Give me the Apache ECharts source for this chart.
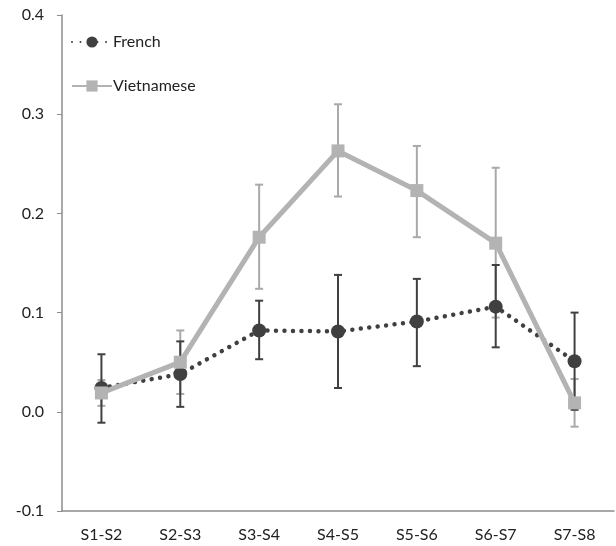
<!DOCTYPE html>
<html>
<head>
<meta charset="utf-8">
<script src="https://cdn.jsdelivr.net/npm/echarts@6/dist/echarts.min.js"></script>
<style>html,body{margin:0;padding:0;background:#fff}#c{width:616px;height:546px}</style>
</head>
<body>
<div id="c"></div>
<script>
const categories = ['S1-S2','S2-S3','S3-S4','S4-S5','S5-S6','S6-S7','S7-S8'];
const french = [0.024, 0.038, 0.082, 0.081, 0.091, 0.106, 0.051];
const frenchLow = [-0.011, 0.005, 0.053, 0.024, 0.046, 0.065, 0.002];
const frenchHigh = [0.058, 0.071, 0.112, 0.138, 0.134, 0.148, 0.100];
const vietnamese = [0.019, 0.050, 0.176, 0.263, 0.223, 0.170, 0.009];
const vietLow = [0.006, 0.018, 0.124, 0.217, 0.176, 0.095, -0.015];
const vietHigh = [0.032, 0.082, 0.229, 0.310, 0.268, 0.246, 0.033];
const yTicks = [-0.1, 0.0, 0.1, 0.2, 0.3, 0.4];

const FR = '#404040', VI = '#b3b3b3', VIE = '#a9a9a9';
const FONT = 'Lato';

function errData(low, high){ return categories.map((c,i)=>[i, low[i], high[i]]); }
function errRender(color){
  return function(params, api){
    const x = api.value(0);
    const lo = api.coord([x, api.value(1)]);
    const hi = api.coord([x, api.value(2)]);
    const hw = 4;
    const st = {stroke: color, lineWidth: 2};
    return {type:'group', children:[
      {type:'line', shape:{x1:lo[0],y1:lo[1],x2:hi[0],y2:hi[1]}, style:st},
      {type:'line', shape:{x1:lo[0]-hw,y1:lo[1],x2:lo[0]+hw,y2:lo[1]}, style:st},
      {type:'line', shape:{x1:hi[0]-hw,y1:hi[1],x2:hi[0]+hw,y2:hi[1]}, style:st}
    ]};
  };
}

const chart = echarts.init(document.getElementById('c'), null, {renderer:'canvas'});
chart.setOption({
  animation:false,
  backgroundColor:'#fff',
  grid:{left:62, right:2, top:15, bottom:35, containLabel:false},
  legend:{
    orient:'vertical', left:66, top:29, itemGap:28, itemWidth:40, itemHeight:14,
    data:['French','Vietnamese'],
    textStyle:{fontFamily:FONT, fontSize:16, color:'#222', padding:[0,0,0,-4]}
  },
  xAxis:{
    type:'category', data:categories, boundaryGap:true,
    axisLine:{onZero:false, lineStyle:{color:'#8c8c8c', width:1.5}},
    axisTick:{show:false},
    axisLabel:{fontFamily:FONT, fontSize:16, color:'#222', margin:16}
  },
  yAxis:{
    type:'value', min:-0.1, max:0.4, interval:0.1,
    axisLine:{show:true, lineStyle:{color:'#8c8c8c', width:1.5}},
    axisTick:{show:true, length:5, lineStyle:{color:'#8c8c8c'}},
    splitLine:{show:false},
    axisLabel:{fontFamily:FONT, fontSize:16, color:'#222', margin:18,
      formatter:function(v){ return v.toFixed(1); }}
  },
  series:[
    {type:'custom', name:'vErr', data:errData(vietLow, vietHigh), renderItem:errRender(VIE), z:1, silent:true},
    {type:'custom', name:'fErr', data:errData(frenchLow, frenchHigh), renderItem:errRender(FR), z:2, silent:true},
    {type:'line', name:'French', data:french, z:3,
      symbol:'circle', symbolSize:14, itemStyle:{color:FR},
      lineStyle:{color:FR, width:4.5, type:[0.001, 8.5], cap:'round'}},
    {type:'line', name:'Vietnamese', data:vietnamese, z:4,
      symbol:'rect', symbolSize:13, itemStyle:{color:VI},
      lineStyle:{color:VI, width:5}}
  ]
});
</script>
</body>
</html>
